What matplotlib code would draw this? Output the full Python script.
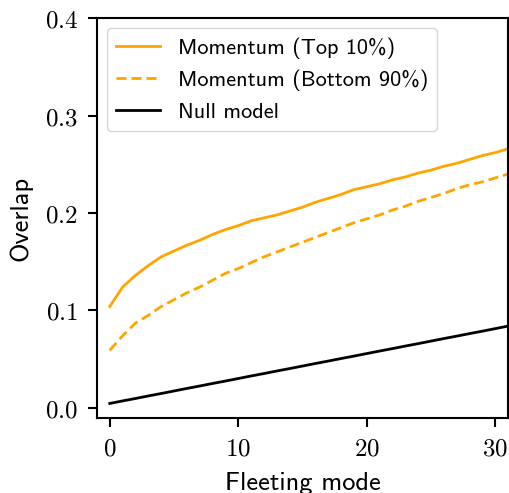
import numpy as np
import matplotlib
matplotlib.use("Agg")
import matplotlib.pyplot as plt
from matplotlib.ticker import FuncFormatter

# Global style
plt.rc('mathtext', fontset='cm')
plt.rc('axes', unicode_minus=False)
TICK_FONT_SIZE = 18
AXES_FONT_SIZE = 19
LEGEND_FONT_SIZE = 16
LINE_WIDTH = 2.0
SANS = 'cmss10'

# Data
fleeting_mode = list(range(32))
top_10 = [0.104, 0.124, 0.136, 0.146, 0.155, 0.161, 0.167, 0.172, 0.178, 0.183,
          0.187, 0.192, 0.195, 0.198, 0.202, 0.206, 0.211, 0.215, 0.219, 0.224,
          0.227, 0.230, 0.234, 0.237, 0.241, 0.244, 0.248, 0.251, 0.255, 0.259,
          0.262, 0.266]
bottom_90 = [0.059, 0.074, 0.087, 0.095, 0.104, 0.111, 0.118, 0.124, 0.131, 0.138,
             0.143, 0.149, 0.155, 0.160, 0.165, 0.170, 0.175, 0.180, 0.185, 0.190,
             0.194, 0.198, 0.203, 0.207, 0.212, 0.216, 0.220, 0.225, 0.229, 0.232,
             0.236, 0.240]
null_model = [0.0045, 0.0071, 0.0096, 0.0122, 0.0147, 0.0173, 0.0199, 0.0224, 0.0250, 0.0275,
              0.0301, 0.0327, 0.0352, 0.0378, 0.0403, 0.0429, 0.0455, 0.0480, 0.0506, 0.0531,
              0.0557, 0.0583, 0.0608, 0.0634, 0.0659, 0.0685, 0.0711, 0.0736, 0.0762, 0.0787,
              0.0813, 0.0839]

labels = ['Momentum (Top 10%)', 'Momentum (Bottom 90%)', 'Null model']
x_ticks = [0, 10, 20, 30]
y_ticks = [0.0, 0.1, 0.2, 0.3, 0.4]

fig = plt.figure(figsize=(5.1, 4.93), dpi=100)
ax = fig.add_axes([0.190, 0.152, 0.806, 0.811])

ax.plot(fleeting_mode, top_10, color='orange', lw=LINE_WIDTH, label=labels[0])
ax.plot(fleeting_mode, bottom_90, color='orange', lw=LINE_WIDTH, linestyle=(0, (3.6, 1.8)), label=labels[1])
ax.plot(fleeting_mode, null_model, color='black', lw=LINE_WIDTH, label=labels[2])

ax.set_xlim(-1, 31)
ax.set_ylim(-0.0105, 0.4)
ax.set_xticks(x_ticks)
ax.set_yticks(y_ticks)
ax.xaxis.set_major_formatter(FuncFormatter(lambda v, p: r'$%d$' % v))
ax.yaxis.set_major_formatter(FuncFormatter(lambda v, p: r'$%.1f$' % v))
ax.tick_params(labelsize=TICK_FONT_SIZE, length=6.5, width=1.5, pad=7)
for spine in ax.spines.values():
    spine.set_linewidth(1.5)

# x label is partly cut at the bottom edge, as in the reference
ax.set_xlabel('Fleeting mode', fontsize=AXES_FONT_SIZE, family=SANS, labelpad=8)
ax.set_ylabel('Overlap', fontsize=AXES_FONT_SIZE, family=SANS, labelpad=9)

ax.legend(loc='upper left', prop={'family': SANS, 'size': LEGEND_FONT_SIZE},
          handlelength=2.0, borderaxespad=0.45, labelspacing=0.5)

fig.savefig('out.png', dpi=100)
